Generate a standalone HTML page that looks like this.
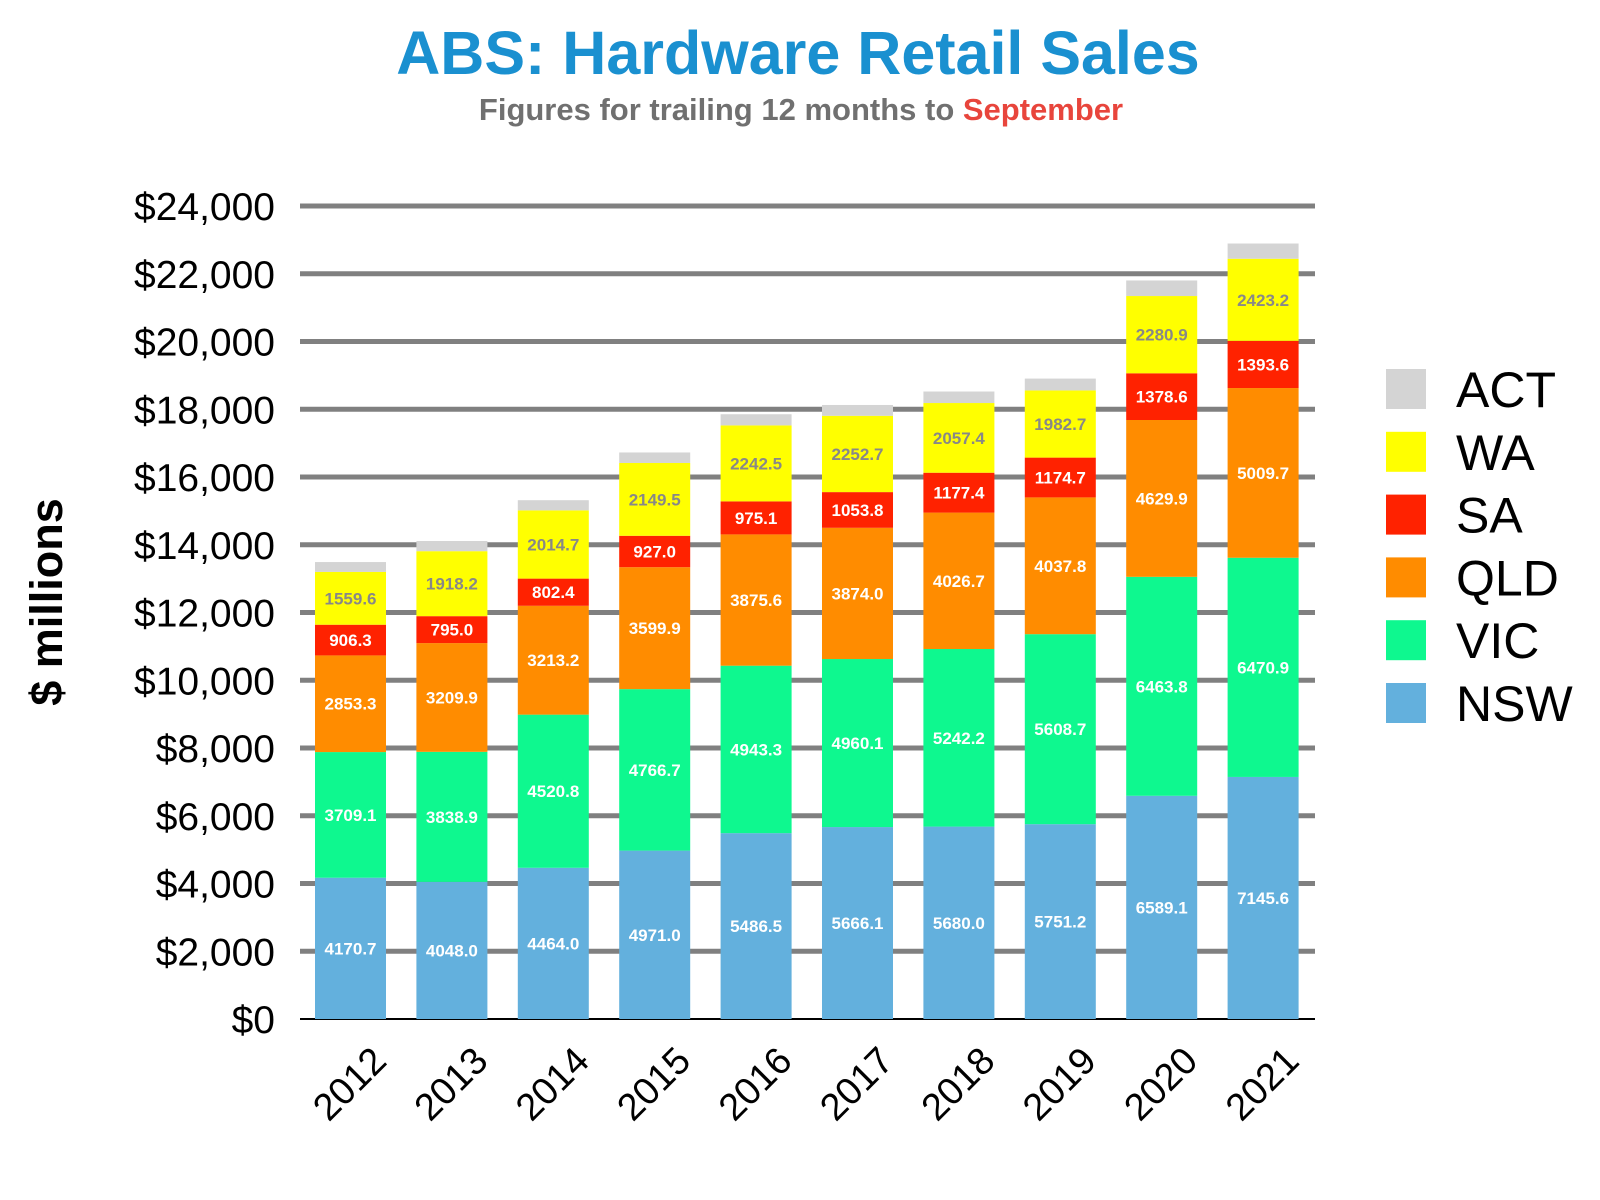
<!DOCTYPE html>
<html><head><meta charset="utf-8"><style>
html,body{margin:0;padding:0;background:#fff;}
svg{display:block;}
</style></head><body>
<svg id="chart" width="1600" height="1200" viewBox="0 0 1600 1200" xmlns="http://www.w3.org/2000/svg" font-family="Liberation Sans, sans-serif">
  <text x="798" y="74" text-anchor="middle" font-size="61" font-weight="bold" fill="#1a90d0">ABS: Hardware Retail Sales</text>
  <text x="801" y="120" text-anchor="middle" font-size="31" font-weight="bold" fill="#707070">Figures for trailing 12 months to <tspan fill="#e8453c">September</tspan></text>
  <text transform="translate(62,602) rotate(-90)" text-anchor="middle" font-size="45" font-weight="bold" fill="#000">$ millions</text>
  <g id="grid"></g><g id="bars"></g><g id="labels"></g><g id="legend"></g>
</svg>
<script>
const years = ['2012','2013','2014','2015','2016','2017','2018','2019','2020','2021'];
const nsw = [4170.7,4048.0,4464.0,4971.0,5486.5,5666.1,5680.0,5751.2,6589.1,7145.6];
const vic = [3709.1,3838.9,4520.8,4766.7,4943.3,4960.1,5242.2,5608.7,6463.8,6470.9];
const qld = [2853.3,3209.9,3213.2,3599.9,3875.6,3874.0,4026.7,4037.8,4629.9,5009.7];
const sa = [906.3,795.0,802.4,927.0,975.1,1053.8,1177.4,1174.7,1378.6,1393.6];
const wa = [1559.6,1918.2,2014.7,2149.5,2242.5,2252.7,2057.4,1982.7,2280.9,2423.2];
const act = [290,300,300,310,330,320,340,350,460,450];
const yTicks = [0,2000,4000,6000,8000,10000,12000,14000,16000,18000,20000,22000,24000];
const seriesNames = ['NSW','VIC','QLD','SA','WA','ACT'];
const seriesColors = ['#63b0dd','#0ef88f','#ff8c00','#ff2200','#ffff00','#d4d4d4'];
const labelColors = ['#fff','#fff','#fff','#fff','#888','#888'];

const NS='http://www.w3.org/2000/svg';
const X0=300, X1=1315, Y0=1019, Y1=206, YMAX=24000;
const y = v => Y0 - (v/YMAX)*(Y0-Y1);
const step = 101.4;
const xc = i => 350.5 + step*i;
const BW = 71;
function mk(tag, attrs, parent){const e=document.createElementNS(NS,tag);for(const k in attrs)e.setAttribute(k,attrs[k]);parent.appendChild(e);return e;}
const grid=document.getElementById('grid'), bars=document.getElementById('bars'), labels=document.getElementById('labels'), legend=document.getElementById('legend');
yTicks.forEach(t=>{
  if(t>0){const l=mk('line',{x1:X0,x2:X1,y1:y(t),y2:y(t),stroke:'#808080','stroke-width':5},grid);
  
  }
  const tx=mk('text',{x:275,y:y(t)+14,'text-anchor':'end','font-size':39,fill:'#000'},grid);
  tx.textContent='$'+t.toLocaleString('en-US');
  
  
});
const ax=mk('line',{x1:X0,x2:X1,y1:Y0,y2:Y0,stroke:'#000','stroke-width':2},grid);


const series=[nsw,vic,qld,sa,wa,act];
years.forEach((yr,i)=>{
  let base=0;
  series.forEach((s,k)=>{
    const v=s[i];
    const r=mk('rect',{x:xc(i)-BW/2,y:y(base+v),width:BW,height:y(base)-y(base+v),fill:seriesColors[k]},bars);
    
    
    if(k<5){
      const t=mk('text',{x:xc(i),y:(y(base)+y(base+v))/2+6,'text-anchor':'middle','font-size':17,'font-weight':'bold',fill:labelColors[k]},labels);
      t.textContent=v.toFixed(1);
      
      
    }
    base+=v;
  });
  const tl=mk('text',{x:0,y:0,'text-anchor':'end','font-size':38,fill:'#000',transform:`translate(${xc(i)+38},${1063}) rotate(-45)`},labels);
  tl.textContent=yr;
  
  
});
const legOrder=[5,4,3,2,1,0];
legOrder.forEach((k,j)=>{
  const cy=389+j*62.8;
  const r=mk('rect',{x:1386,y:cy-20,width:40,height:40,fill:seriesColors[k]},legend);
  
  
  const t=mk('text',{x:1456,y:cy+18,'font-size':50,fill:'#000'},legend);
  t.textContent=seriesNames[k];
  
  
});
</script>
</body></html>
